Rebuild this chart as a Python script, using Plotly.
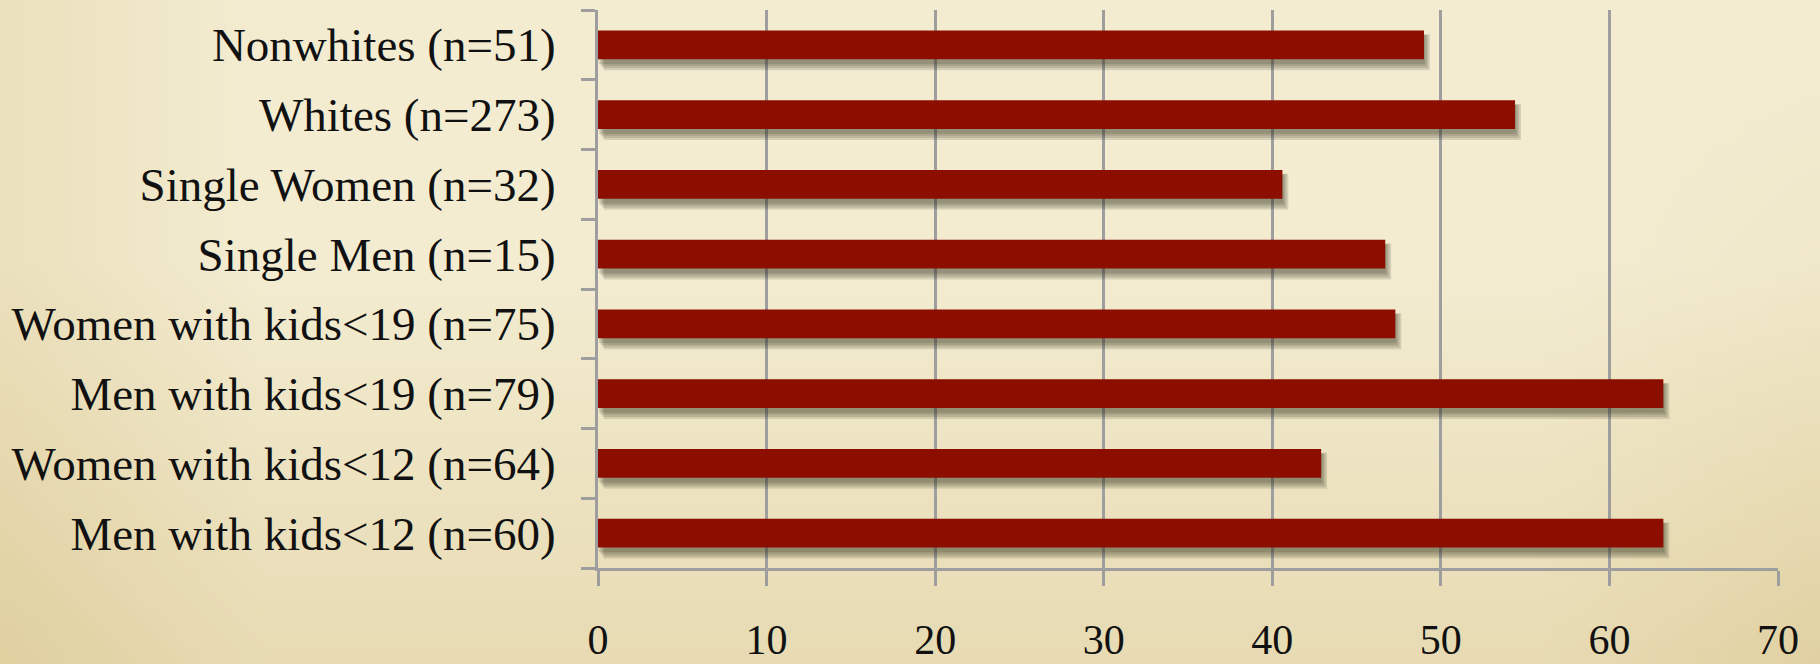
import base64
import struct
import zlib

import plotly.graph_objects as go

# Survey groups, listed bottom to top on the chart
groups = [
    "Men with kids<12 (n=60)",
    "Women with kids<12 (n=64)",
    "Men with kids<19 (n=79)",
    "Women with kids<19 (n=75)",
    "Single Men (n=15)",
    "Single Women (n=32)",
    "Whites (n=273)",
    "Nonwhites (n=51)",
]
values = [63.2, 42.9, 63.2, 47.3, 46.7, 40.6, 54.4, 49.0]
x_ticks = [0, 10, 20, 30, 40, 50, 60, 70]

W, H = 1820, 664
M_L, M_R, M_T, M_B = 598, 42, 10, 96
BAR_W = 0.41
BAR_COLOR = "#8b0e00"
GRID = "#9e9e9e"
FONT = "Liberation Serif, Times New Roman, serif"


def parchment_png(w=182, h=66):
    """Soft parchment gradient: pale cream centre, warmer tan towards the edges."""
    light = (243, 236, 209)
    tan = (224, 208, 160)
    rows = bytearray()
    for j in range(h):
        v = j / (h - 1)
        rows.append(0)
        for i in range(w):
            u = i / (w - 1)
            t = 0.0
            t += 0.6 * max(0.0, v - 0.4) / 0.6
            t += 0.4 * max(0.0, 0.14 - u) / 0.14
            t += 0.35 * max(0.0, u - 0.85) / 0.15 * v
            t = min(1.0, t)
            rows.extend(int(round(light[k] + (tan[k] - light[k]) * t)) for k in range(3))

    def chunk(tag, data):
        c = struct.pack(">I", len(data)) + tag + data
        return c + struct.pack(">I", zlib.crc32(tag + data) & 0xFFFFFFFF)

    png = b"\x89PNG\r\n\x1a\n"
    png += chunk(b"IHDR", struct.pack(">IIBBBBB", w, h, 8, 2, 0, 0, 0))
    png += chunk(b"IDAT", zlib.compress(bytes(rows), 9))
    png += chunk(b"IEND", b"")
    return "data:image/png;base64," + base64.b64encode(png).decode()


fig = go.Figure()

# Soft drop shadow under each bar, built up from a few translucent layers
for i in range(4):
    w = BAR_W + 0.035 * i
    fig.add_trace(go.Bar(
        y=groups,
        x=values,
        base=0.05 + 0.1 * i,
        orientation="h",
        width=w,
        offset=-w / 2 - 0.07 - 0.012 * i,
        marker=dict(color="rgba(50,48,30,0.15)", line=dict(width=0)),
        hoverinfo="skip",
        showlegend=False,
    ))

fig.add_trace(go.Bar(
    y=groups,
    x=values,
    orientation="h",
    width=BAR_W,
    marker=dict(color=BAR_COLOR, line=dict(width=0)),
    showlegend=False,
))

pw = W - M_L - M_R
ph = H - M_T - M_B
fig.add_layout_image(dict(
    source=parchment_png(),
    xref="paper", yref="paper",
    x=-M_L / pw, y=1 + M_T / ph,
    sizex=W / pw, sizey=H / ph,
    xanchor="left", yanchor="top",
    sizing="stretch", layer="below",
))

fig.update_layout(
    width=W,
    height=H,
    margin=dict(l=M_L, r=M_R, t=M_T, b=M_B, pad=0, autoexpand=False),
    paper_bgcolor="#ece2bf",
    plot_bgcolor="rgba(0,0,0,0)",
    barmode="overlay",
    font=dict(family=FONT, color="#111111", size=46),
    xaxis=dict(
        range=[0, 70],
        tickvals=x_ticks,
        ticktext=[str(t) for t in x_ticks],
        showgrid=True,
        gridcolor=GRID,
        gridwidth=2.5,
        zeroline=False,
        showline=True,
        linecolor=GRID,
        linewidth=3,
        ticks="outside",
        ticklen=15,
        tickwidth=2.5,
        tickcolor=GRID,
        ticklabelstandoff=18,
        tickfont=dict(size=42, family=FONT, color="#111111"),
        automargin=False,
        fixedrange=True,
    ),
    yaxis=dict(
        categoryorder="array",
        categoryarray=groups,
        range=[-0.5, 7.5],
        showgrid=False,
        zeroline=False,
        showline=True,
        linecolor=GRID,
        linewidth=3,
        ticks="outside",
        tickson="boundaries",
        ticklen=14,
        tickwidth=2.5,
        tickcolor=GRID,
        ticklabelstandoff=30,
        tickfont=dict(size=47, family=FONT, color="#111111"),
        automargin=False,
        fixedrange=True,
    ),
)

fig.write_html("out.html")
